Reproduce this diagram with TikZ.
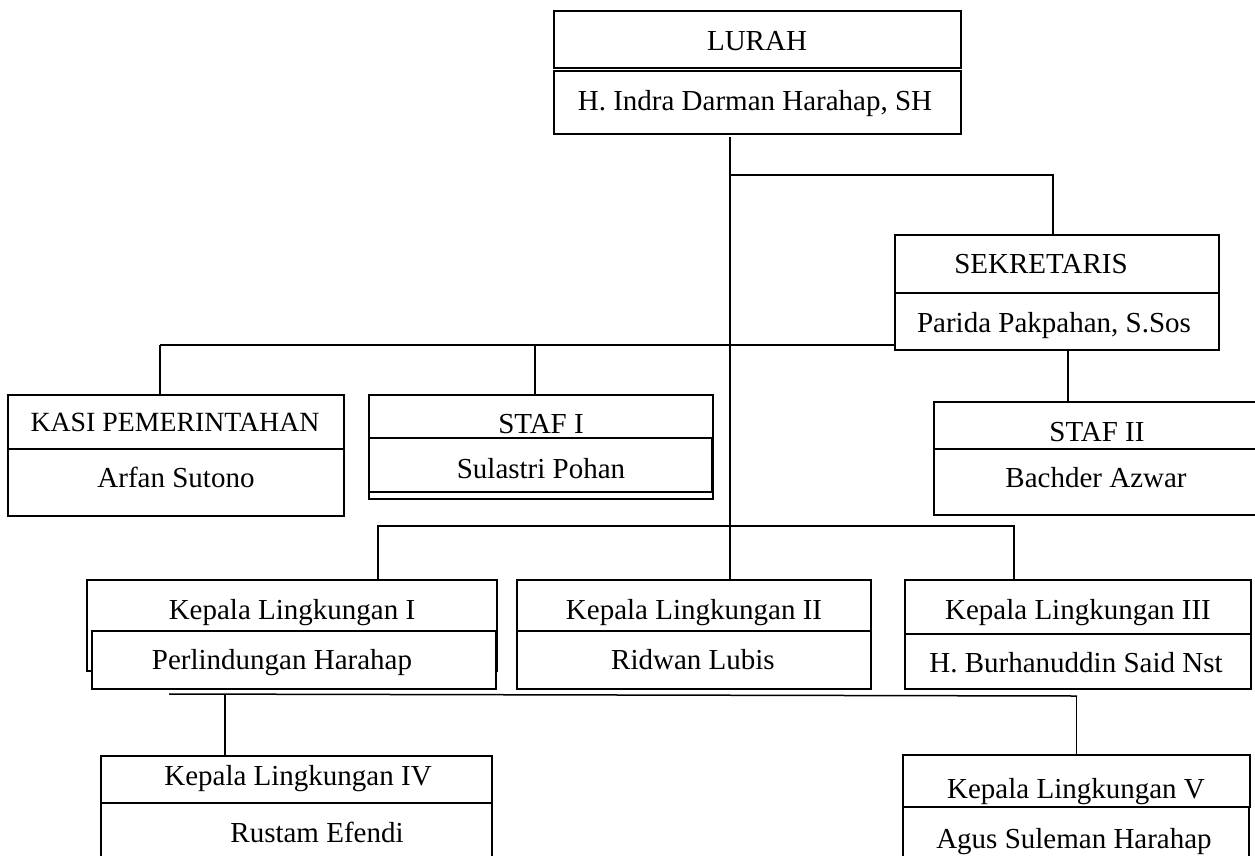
\documentclass[tikz,border=0pt]{standalone}
\usepackage{fontspec}
\setmainfont{Liberation Serif}
\begin{document}
\begin{tikzpicture}[x=1pt,y=-1pt,
  cell/.style={draw, line width=1.5pt, fill=white, inner sep=0pt, outer sep=0pt, anchor=north west},
  lbl/.style={anchor=base, inner sep=0pt, font=\fontsize{29}{34}\selectfont},
  link/.style={line width=1.5pt}]
\useasboundingbox (0,0) rectangle (1255,855);
\clip (0,0) rectangle (1255,855);
\fill[white] (0,0) rectangle (1255,855);

% ---- connectors ----
\coordinate (m0) at (730,137);
\coordinate (m1) at (730,175);
\coordinate (hb) at (160,345);
\coordinate (bb1) at (169,694);
\coordinate (bb2) at (1077,696);

% ---- boxes ----
\node[cell, minimum width=407pt, minimum height=57pt] (lurahT) at (554,11) {};
\node[cell, minimum width=407pt, minimum height=63pt] (lurahN) at (554,71) {};
\node[cell, minimum width=324pt, minimum height=58pt] (sekT) at (895,235) {};
\node[cell, minimum width=324pt, minimum height=57pt] (sekN) at (895,293) {};
\node[cell, minimum width=340pt, minimum height=47pt] (staf2T) at (934,402) {};
\node[cell, minimum width=340pt, minimum height=66pt] (staf2N) at (934,449) {};
\node[cell, minimum width=336pt, minimum height=54pt] (kasiT) at (8,395) {};
\node[cell, minimum width=336pt, minimum height=67pt] (kasiN) at (8,449) {};
\node[cell, minimum width=344pt, minimum height=104pt] (staf1O) at (369,395) {};
\node[cell, minimum width=343pt, minimum height=54pt] (staf1N) at (369,438) {};
\node[cell, minimum width=410pt, minimum height=91pt] (kl1O) at (87,580) {};
\node[cell, minimum width=404pt, minimum height=58pt] (kl1N) at (92,631) {};
\node[cell, minimum width=354pt, minimum height=51pt] (kl2T) at (517,580) {};
\node[cell, minimum width=354pt, minimum height=58pt] (kl2N) at (517,631) {};
\node[cell, minimum width=346pt, minimum height=54pt] (kl3T) at (905,580) {};
\node[cell, minimum width=346pt, minimum height=55pt] (kl3N) at (905,634) {};
\node[cell, minimum width=391pt, minimum height=47pt] (kl4T) at (101,756) {};
\node[cell, minimum width=391pt, minimum height=80pt] (kl4N) at (101,803) {};
\node[cell, minimum width=347pt, minimum height=52pt] (kl5T) at (903,755) {};

\draw[link] (m0) -- (m0 |- kl2T.north);
\draw[link] (m1) -| ([xshift=-4pt]sekT.north);
\draw[link] (hb) -- (hb -| sekN.west);
\draw[link] (hb) -- (hb |- kasiT.north);
\draw[link] ([xshift=-6pt]staf1O.north) -- ([xshift=-6pt]staf1O.north |- hb);
\draw[link] ([xshift=11pt]sekN.south) -- ([xshift=11pt]sekN.south |- staf2T.north);
\draw[link] ([xshift=86pt]kl1O.north) -- ++(0,-54) -| ([xshift=-64pt]kl3T.north);
\draw[link] (bb1) -- (bb2);
\draw[link] ([xshift=-71.5pt]kl4T.north) -- ([xshift=-71.5pt]kl4T.north |- bb1);
\draw[link] (kl5T.north) -- (kl5T.north |- bb2);

% ---- labels ----
\node[lbl] (t1) at (757,50) {LURAH};
\node[lbl] (t2) at (755,110) {H. Indra Darman Harahap, SH};
\node[lbl] (t3) at (1041,273) {SEKRETARIS};
\node[lbl] (t4) at (1054,332) {Parida Pakpahan, S.Sos};
\node[lbl] (t5) at (1097,441) {STAF II};
\node[lbl] (t6) at (1096,487) {Bachder Azwar};
\node[lbl, font=\fontsize{27.8}{34}\selectfont] (t7) at (175,431) {KASI PEMERINTAHAN};
\node[lbl] (t8) at (176,487) {Arfan Sutono};
\node[lbl] (t9) at (541,433) {STAF I};
\node[lbl] (t10) at (541,478) {Sulastri Pohan};
\node[lbl] (t11) at (292,619) {Kepala Lingkungan I};
\node[lbl] (t12) at (282,669) {Perlindungan Harahap};
\node[lbl] (t13) at (694,619) {Kepala Lingkungan II};
\node[lbl] (t14) at (693,669) {Ridwan Lubis};
\node[lbl] (t15) at (1078,619) {Kepala Lingkungan III};
\node[lbl] (t16) at (1076,672) {H. Burhanuddin Said Nst};
\node[lbl] (t17) at (298,785) {Kepala Lingkungan IV};
\node[lbl] (t18) at (317,842) {Rustam Efendi};
\node[lbl] (t19) at (1076,798) {Kepala Lingkungan V};
\node[cell, minimum width=346pt, minimum height=80pt] (kl5N) at (903,807) {};
\node[lbl] (t20) at (1074,848) {Agus Suleman Harahap};
\end{tikzpicture}
\end{document}
